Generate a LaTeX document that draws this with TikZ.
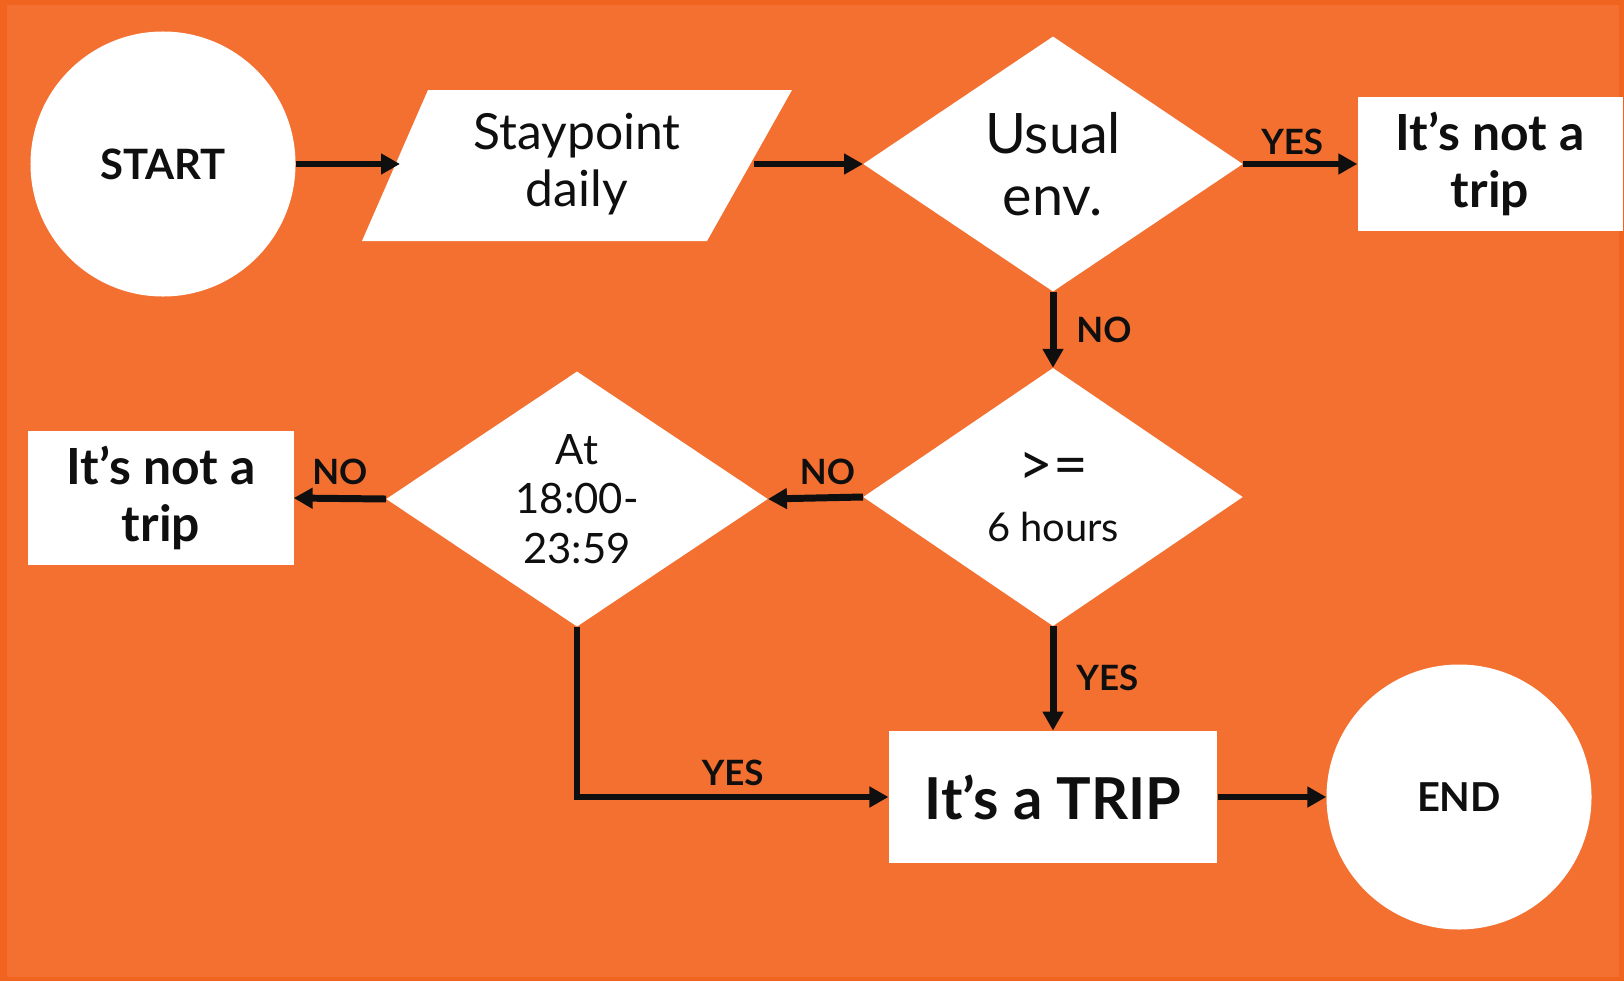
\documentclass[tikz,border=0pt]{standalone}
\usepackage{fontspec}
\setmainfont{Lato}
\usetikzlibrary{shapes.geometric,arrows.meta}
\definecolor{bgor}{RGB}{243,112,48}
\definecolor{edgeor}{RGB}{240,100,32}
\definecolor{ink}{RGB}{15,15,15}
\begin{document}
\begin{tikzpicture}[x=1bp,y=-1bp,
  every node/.style={text=ink,align=center,inner sep=0pt},
  term/.style={circle,fill=white,minimum size=266},
  decide/.style={diamond,fill=white,minimum width=381,minimum height=256},
  outbox/.style={rectangle,fill=white},
  conn/.style={line width=7,draw=ink,-{Triangle[length=19,width=20]}},
  lbl/.style={font=\bfseries\fontsize{35}{38}\selectfont},
  regtext/.style={font=\fontsize{50}{58}\selectfont},
]
\useasboundingbox (0,0) rectangle (1624,981);
\fill[edgeor] (0,0) rectangle (1624,981);
\fill[bgor] (7,5) rectangle (1619,977);

% nodes
\node[term,font=\bfseries\fontsize{42}{46}\selectfont] (start) at (163,164) {START};
\fill[white] (428,90) -- (792,90) -- (707,241) -- (362,241) -- cycle;
\node[minimum width=355,minimum height=151,regtext] (stay) at (577,164) {Staypoint\\daily};
\node[decide,font=\fontsize{56}{62}\selectfont] (usual) at (1053,164) {Usual\\env.};
\node[outbox,minimum width=266,minimum height=134,font=\bfseries\fontsize{50}{57}\selectfont] (nt1) at (1490,164) {It’s not a\\trip};
\node[decide,minimum height=259,font=\fontsize{40}{56}\selectfont] (ge) at (1053,497) {{\fontsize{60}{56}\selectfont >=}\\6 hours};
\node[decide,minimum width=383,minimum height=256,font=\fontsize{42}{50}\selectfont] (at) at (577,499) {At\\18:00-\\23:59};
\node[outbox,minimum width=266,minimum height=134,font=\bfseries\fontsize{50}{57}\selectfont] (nt2) at (161,498) {It’s not a\\trip};
\node[outbox,minimum width=330,minimum height=133,font=\bfseries\fontsize{58}{62}\selectfont] (trip) at (1053,797) {It’s a TRIP};
\node[term,font=\bfseries\fontsize{40}{46}\selectfont] (end) at (1459,797) {END};

% connectors
\draw[conn] (start.east) -- (stay.west);
\draw[conn] (stay.east) -- (usual.west);
\draw[conn] (usual.east) -- node[lbl,above=6,xshift=-8] {YES} (nt1.west);
\draw[conn] (usual.south) -- node[lbl,right=20] {NO} (ge.north);
\draw[conn] (ge.west) -- node[lbl,above=10,xshift=12] {NO} (at.east);
\draw[conn] (at.west) -- node[lbl,above=10] {NO} (nt2.east);
\draw[conn] (ge.south) -- node[lbl,right=20] {YES} (trip.north);
\coordinate (corner) at (at.south |- trip.west);
\draw[conn] (at.south) -- (corner) -- node[lbl,above=8,pos=0.5] {YES} (trip.west);
\draw[conn] (trip.east) -- (end.west);
\end{tikzpicture}
\end{document}
